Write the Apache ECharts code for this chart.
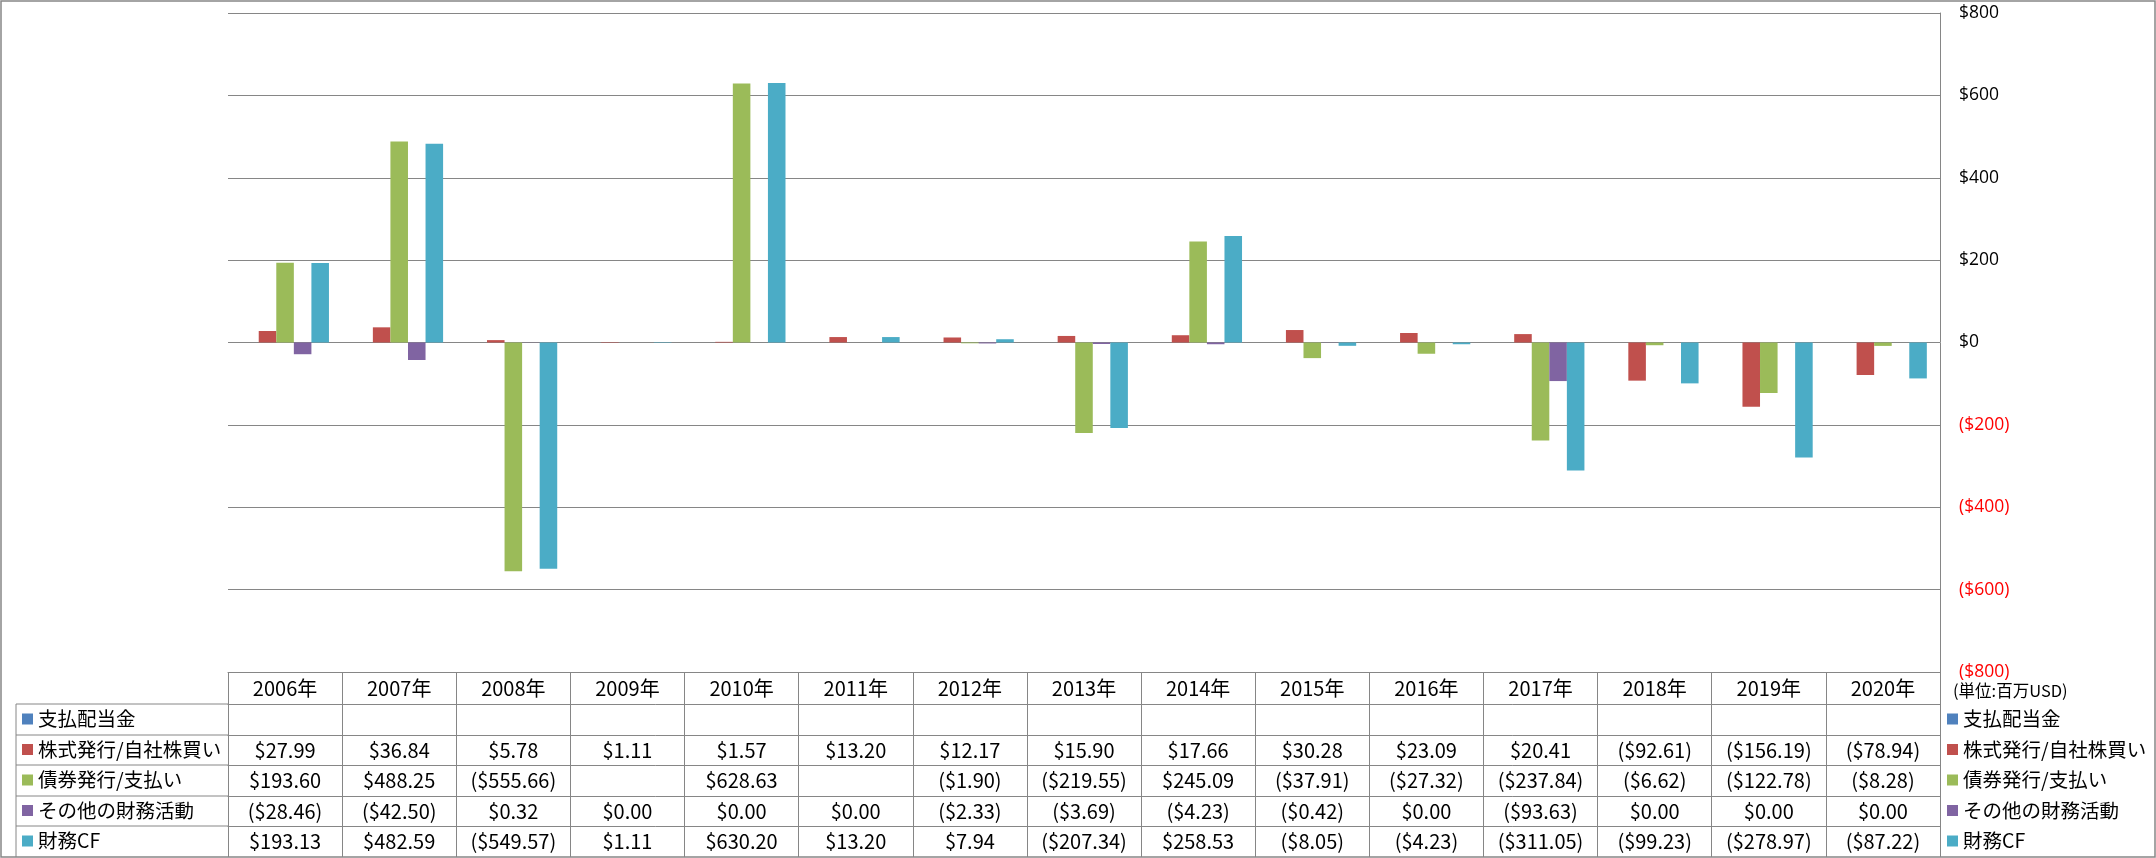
<!DOCTYPE html>
<html><head><meta charset="utf-8">
<script src="https://cdn.jsdelivr.net/npm/echarts@6/dist/echarts.min.js"></script>
<style>html,body{margin:0;padding:0;background:#fff}#c{width:2156px;height:858px}</style>
</head><body><div id="c"></div>
<script>
const years = ['2006年','2007年','2008年','2009年','2010年','2011年','2012年','2013年','2014年','2015年','2016年','2017年','2018年','2019年','2020年'];
const seriesNames = ['支払配当金','株式発行/自社株買い','債券発行/支払い','その他の財務活動','財務CF'];
const seriesColors = ['#4F81BD','#C0504D','#9BBB59','#8064A2','#4BACC6'];
const dividends = [null,null,null,null,null,null,null,null,null,null,null,null,null,null,null];
const equity = [27.99,36.84,5.78,1.11,1.57,13.20,12.17,15.90,17.66,30.28,23.09,20.41,-92.61,-156.19,-78.94];
const debt = [193.60,488.25,-555.66,null,628.63,null,-1.90,-219.55,245.09,-37.91,-27.32,-237.84,-6.62,-122.78,-8.28];
const other = [-28.46,-42.50,0.32,0.00,0.00,0.00,-2.33,-3.69,-4.23,-0.42,0.00,-93.63,0.00,0.00,0.00];
const financingCF = [193.13,482.59,-549.57,1.11,630.20,13.20,7.94,-207.34,258.53,-8.05,-4.23,-311.05,-99.23,-278.97,-87.22];
const yMin = -800, yMax = 800, yStep = 200;
const unitLabel = '(単位:百万USD)';

const rows = [dividends, equity, debt, other, financingCF];

function money(v) {
  if (v === null || v === undefined) return '';
  return v < 0 ? '($' + (-v).toFixed(2) + ')' : '$' + v.toFixed(2);
}
function tickMoney(v) {
  return v < 0 ? '{neg|($' + (-v) + ')}' : '{pos|$' + v + '}';
}

const gridLine = '#868686';
const numFont = "'Liberation Sans Narrow','Arial Narrow','Noto Sans CJK JP',sans-serif";
const cjkFont = "'Noto Sans CJK JP',sans-serif";
const tickFont = "'Open Sans','Liberation Sans',sans-serif";

// table layout (row boundaries relative to plot bottom)
const rowOffsets = [0, 32, 63, 93, 124, 154];
const rowHeights = [32, 31, 30, 31, 30, 31];

const xAxes = [];
for (let r = 0; r < 6; r++) {
  const labels = r === 0 ? years : rows[r - 1].map(money);
  xAxes.push({
    type: 'category',
    data: years,
    position: 'bottom',
    offset: rowOffsets[r],
    axisLine: { show: true, onZero: false, lineStyle: { color: gridLine, width: 1 } },
    axisTick: { show: true, interval: 0, length: rowHeights[r], lineStyle: { color: gridLine, width: 1 } },
    axisLabel: {
      show: true, interval: 0, margin: rowHeights[r] / 2, verticalAlign: 'middle',
      fontFamily: numFont, fontSize: 20, color: '#000',
      formatter: (function (lab) { return function (val, idx) { return lab[idx]; }; })(labels)
    },
    splitLine: { show: false }
  });
}

const series = seriesNames.map(function (n, i) {
  return {
    name: n, type: 'bar', xAxisIndex: 0, yAxisIndex: 0,
    data: rows[i], barGap: '0%', barCategoryGap: '23.08%',
    itemStyle: { color: seriesColors[i] }, emphasis: { disabled: true }
  };
});

function legend(left) {
  return {
    orient: 'vertical', left: left, top: 709, padding: 0,
    icon: 'rect', itemWidth: 11, itemHeight: 11, itemGap: 10.5,
    selectedMode: false,
    textStyle: { fontFamily: cjkFont, fontSize: 19.5, color: '#000', lineHeight: 20, padding: [0,0,0,0] },
    data: seriesNames
  };
}

const leftLines = [704, 735, 765, 796, 826].map(function (y) {
  return { type: 'line', shape: { x1: 16, y1: y, x2: 228, y2: y }, style: { stroke: gridLine, lineWidth: 1 } };
});

const chart = echarts.init(document.getElementById('c'), null, { renderer: 'canvas' });
chart.setOption({
  animation: false,
  backgroundColor: '#fff',
  title: { text: unitLabel, left: 1953, top: 682, padding: 0,
    textStyle: { fontFamily: cjkFont, fontSize: 16.5, fontWeight: 'normal', color: '#000' } },
  grid: { left: 228, right: 216, top: 13, bottom: 186, containLabel: false },
  legend: [legend(22), legend(1947)],
  xAxis: xAxes,
  yAxis: {
    type: 'value', position: 'right', min: yMin, max: yMax, interval: yStep,
    axisLine: { show: true, lineStyle: { color: gridLine, width: 1 } },
    axisTick: { show: false },
    splitLine: { show: true, lineStyle: { color: gridLine, width: 1 } },
    axisLabel: {
      margin: 19, formatter: tickMoney,
      rich: {
        pos: { fontFamily: tickFont, fontSize: 17.5, color: '#000' },
        neg: { fontFamily: tickFont, fontSize: 17.5, color: '#FF0000' }
      }
    }
  },
  graphic: [
    { type: 'rect', shape: { x: 1, y: 1, width: 2154, height: 856 }, style: { fill: null, stroke: gridLine, lineWidth: 1.5 }, silent: true },
    { type: 'line', shape: { x1: 16, y1: 704, x2: 16, y2: 857 }, style: { stroke: gridLine, lineWidth: 1 } }
  ].concat(leftLines),
  series: series
});
</script></body></html>
